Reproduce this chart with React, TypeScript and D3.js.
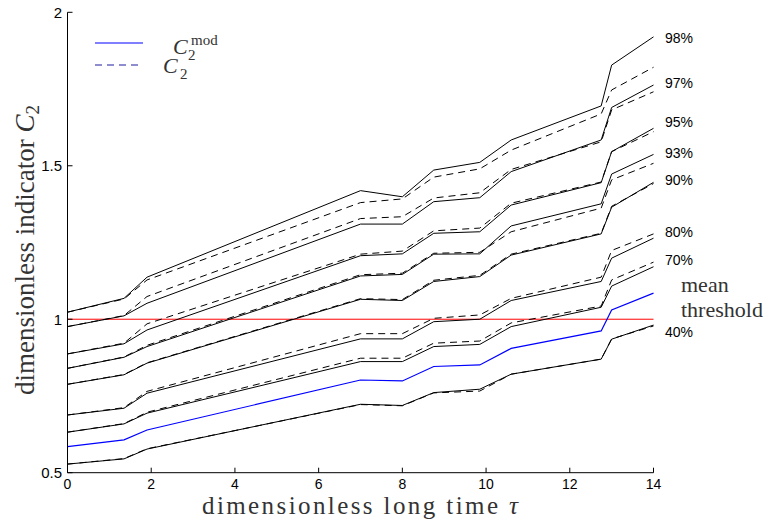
import React from "react";
import * as d3 from "d3";

const tau = [0, 1.35, 1.9, 7, 8, 8.75, 9.85, 10.6, 12.75, 13, 14];

const pctLabels = ["98%", "97%", "95%", "93%", "90%", "80%", "70%", "40%"];
const pctLabelY = [1.916, 1.77, 1.644, 1.543, 1.455, 1.284, 1.193, 0.957];

const c2mod98 = [1.023, 1.068, 1.137, 1.419, 1.399, 1.486, 1.511, 1.584, 1.695, 1.828, 1.92];
const c2mod97 = [0.976, 1.011, 1.052, 1.31, 1.31, 1.383, 1.396, 1.481, 1.584, 1.69, 1.763];
const c2mod95 = [0.887, 0.92, 0.965, 1.207, 1.213, 1.28, 1.285, 1.372, 1.445, 1.546, 1.622];
const c2mod93 = [0.84, 0.876, 0.911, 1.141, 1.146, 1.212, 1.213, 1.304, 1.376, 1.473, 1.537];
const c2mod90 = [0.788, 0.819, 0.857, 1.065, 1.061, 1.123, 1.139, 1.209, 1.278, 1.365, 1.446];
const c2mod80 = [0.688, 0.71, 0.759, 0.936, 0.936, 0.992, 1.0, 1.061, 1.123, 1.199, 1.264];
const c2mod70 = [0.632, 0.659, 0.694, 0.862, 0.862, 0.911, 0.918, 0.976, 1.039, 1.108, 1.171];
const c2mod40 = [0.528, 0.545, 0.577, 0.723, 0.719, 0.761, 0.772, 0.821, 0.87, 0.935, 0.981];
const c2modMean = [0.585, 0.607, 0.639, 0.802, 0.799, 0.846, 0.851, 0.905, 0.962, 1.03, 1.085];

const c298 = [1.023, 1.066, 1.128, 1.38, 1.392, 1.463, 1.49, 1.551, 1.669, 1.747, 1.821];
const c297 = [0.976, 1.012, 1.074, 1.328, 1.334, 1.395, 1.412, 1.488, 1.578, 1.682, 1.741];
const c295 = [0.887, 0.922, 0.985, 1.212, 1.222, 1.288, 1.297, 1.378, 1.447, 1.546, 1.611];
const c293 = [0.84, 0.877, 0.915, 1.145, 1.15, 1.215, 1.218, 1.285, 1.362, 1.454, 1.508];
const c290 = [0.788, 0.82, 0.858, 1.067, 1.064, 1.127, 1.143, 1.212, 1.28, 1.368, 1.442];
const c280 = [0.688, 0.712, 0.765, 0.953, 0.953, 1.003, 1.014, 1.068, 1.137, 1.224, 1.278];
const c270 = [0.632, 0.66, 0.697, 0.873, 0.873, 0.922, 0.929, 0.988, 1.043, 1.128, 1.186];
const c240 = [0.528, 0.546, 0.578, 0.722, 0.718, 0.76, 0.766, 0.821, 0.87, 0.936, 0.978];

const solidSeries = [c2mod98, c2mod97, c2mod95, c2mod93, c2mod90, c2mod80, c2mod70, c2mod40];
const dashedSeries = [c298, c297, c295, c293, c290, c280, c270, c240];

const xTicks = [0, 2, 4, 6, 8, 10, 12, 14];
const yTicks = [0.5, 1, 1.5, 2];
const yTickLabels = ["0.5", "1", "1.5", "2"];
const thresholdValue = 1;

const W = 774;
const H = 522;

export default function App() {
  const x = d3.scaleLinear().domain([0, 14]).range([67.5, 653.5]);
  const y = d3.scaleLinear().domain([0.5, 2]).range([472.7, 12.3]);
  const line = d3
    .line<number>()
    .x((_, i) => x(tau[i]))
    .y((v) => y(v));

  const serif = "'Liberation Serif', 'Times New Roman', serif";
  const sans = "'Liberation Sans', Arial, sans-serif";

  return (
    <svg
      width={W}
      height={H}
      style={{ position: "absolute", left: 0, top: 0, background: "#fff" }}
    >
      <rect x={0} y={0} width={W} height={H} fill="#fff" />
      {/* threshold */}
      <line
        x1={x(0)}
        x2={x(14)}
        y1={y(thresholdValue)}
        y2={y(thresholdValue)}
        stroke="#ff0000"
        strokeWidth={1}
      />
      {dashedSeries.map((s, i) => (
        <path
          key={"d" + i}
          d={line(s) || ""}
          fill="none"
          stroke="#000"
          strokeWidth={1}
          strokeDasharray="7,5"
        />
      ))}
      {solidSeries.map((s, i) => (
        <path key={"s" + i} d={line(s) || ""} fill="none" stroke="#000" strokeWidth={1} />
      ))}
      <path d={line(c2modMean) || ""} fill="none" stroke="#0000ff" strokeWidth={1.2} />

      {/* axes */}
      <line x1={x(0)} x2={x(0)} y1={y(0.5)} y2={y(2)} stroke="#000" strokeWidth={1} />
      <line x1={x(0)} x2={x(14)} y1={y(0.5)} y2={y(0.5)} stroke="#000" strokeWidth={1} />
      {xTicks.map((t) => (
        <g key={"xt" + t}>
          <line x1={x(t)} x2={x(t)} y1={y(0.5)} y2={y(0.5) - 5} stroke="#000" strokeWidth={1} />
          <text x={x(t)} y={489} textAnchor="middle" fontFamily={sans} fontSize={14} fill="#000">
            {t}
          </text>
        </g>
      ))}
      {yTicks.map((t, i) => (
        <g key={"yt" + t}>
          <line x1={x(0)} x2={x(0) + 5} y1={y(t)} y2={y(t)} stroke="#000" strokeWidth={1} />
          <text
            x={62}
            y={y(t)}
            textAnchor="end"
            dominantBaseline="central"
            fontFamily={sans}
            fontSize={15}
            fill="#000"
          >
            {yTickLabels[i]}
          </text>
        </g>
      ))}

      {/* right labels */}
      {pctLabels.map((l, i) => (
        <text
          key={l}
          x={665}
          y={y(pctLabelY[i])}
          dominantBaseline="central"
          fontFamily={sans}
          fontSize={14}
          fill="#000"
        >
          {l}
        </text>
      ))}
      <text x={681} y={292} fontFamily={serif} fontSize={22} fill="#333">
        mean
      </text>
      <text x={681} y={317} fontFamily={serif} fontSize={22} fill="#333">
        threshold
      </text>

      {/* axis titles */}
      <text
        x={202}
        y={514}
        fontFamily={serif}
        fontSize={25}
        fill="#333"
        textLength={316}
        lengthAdjust="spacing"
      >
        dimensionless long time <tspan fontStyle="italic">τ</tspan>
      </text>
      <text
        transform="translate(34,395) rotate(-90)"
        x={0}
        y={0}
        fontFamily={serif}
        fontSize={27}
        fill="#333"
      >
        dimensionless indicator <tspan fontStyle="italic">C</tspan>
        <tspan fontSize={19} dy={5}>2</tspan>
      </text>

      {/* legend */}
      <line x1={95} x2={143} y1={43} y2={43} stroke="#0000ff" strokeWidth={1} />
      <line x1={95} x2={143} y1={65} y2={65} stroke="#1a1aa0" strokeWidth={1} strokeDasharray="7,5" />
      <text x={173} y={54} fontFamily={serif} fontSize={22} fontStyle="italic" fill="#333">
        C
      </text>
      <text x={191} y={45} fontFamily={serif} fontSize={15} fill="#333">
        mod
      </text>
      <text x={188} y={60} fontFamily={serif} fontSize={15} fill="#333">
        2
      </text>
      <text x={163} y={73} fontFamily={serif} fontSize={22} fontStyle="italic" fill="#333">
        C
      </text>
      <text x={180} y={79} fontFamily={serif} fontSize={15} fill="#333">
        2
      </text>
    </svg>
  );
}
